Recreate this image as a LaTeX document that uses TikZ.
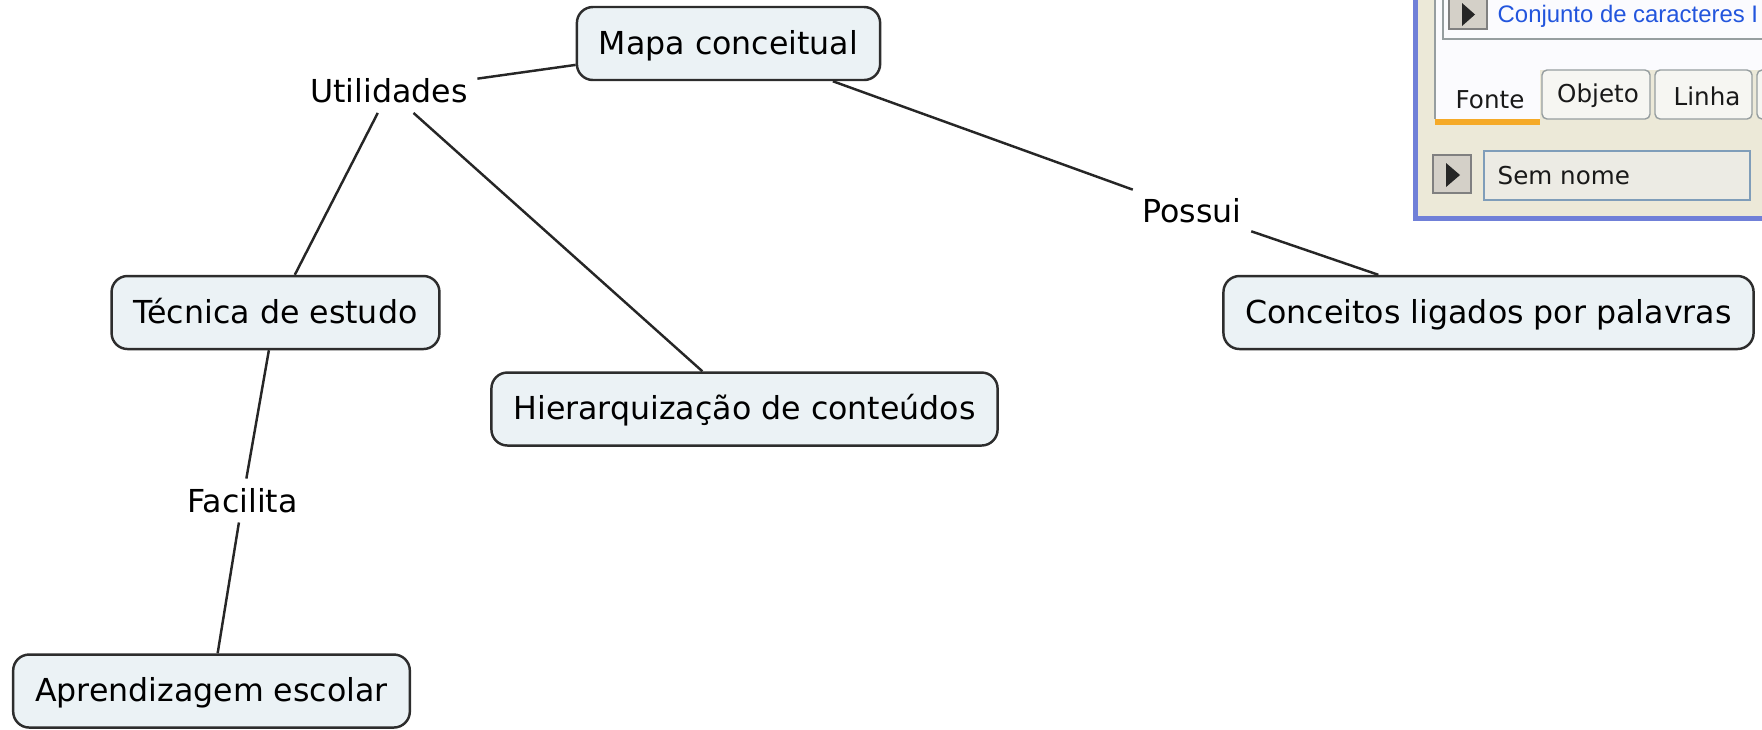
\documentclass[tikz,border=0pt]{standalone}
\usepackage{fontspec}
\setmainfont{DejaVu Sans}
\newfontfamily\uifont{Liberation Sans}

\definecolor{fundo}{RGB}{235,242,245}
\definecolor{borda}{RGB}{45,45,45}
\definecolor{xpbege}{RGB}{236,233,216}
\definecolor{xpazul}{RGB}{112,128,216}
\definecolor{abacinza}{RGB}{150,158,160}
\definecolor{painel}{RGB}{251,251,254}
\definecolor{aba}{RGB}{246,246,242}
\definecolor{botao}{RGB}{212,208,200}
\definecolor{campo}{RGB}{236,235,228}
\definecolor{campoborda}{RGB}{127,157,185}
\definecolor{azultexto}{RGB}{34,85,221}
\definecolor{laranja}{RGB}{245,170,40}

\begin{document}
\begin{tikzpicture}[font=\fontsize{9}{10.5}\selectfont,
   conceito/.style={draw=borda,line width=.7pt,fill=fundo,rounded corners=.16cm,
      inner xsep=.22cm,minimum height=.73cm,text height=.8em,text depth=.2em},
   ligacao/.style={inner sep=.09cm},
   linha/.style={draw=black!85,line width=.7pt},
   ui/.style={font=\fontsize{7}{8}\selectfont,text=black!90,inner sep=0pt}]
   \useasboundingbox (0,0) rectangle (17.62,-7.29);

   \node[conceito] (mapa) at (7.285,-.435) {Mapa conceitual};
   \node[ligacao] (util) at (3.89,-.91) {Utilidades};
   \node[conceito] (tecnica) at (2.755,-3.125) {Técnica de estudo};
   \node[conceito] (hier) at (7.445,-4.09) {Hierarquização de conteúdos};
   \node[ligacao] (possui) at (11.92,-2.11) {Possui};
   \node[conceito] (conceitos) at (14.885,-3.125) {Conceitos ligados por palavras};
   \node[ligacao] (facilita) at (2.425,-5.005) {Facilita};
   \node[conceito] (aprend) at (2.115,-6.91) {Aprendizagem escolar};

   \draw[linha] (util) -- (mapa);
   \draw[linha] (util) -- (tecnica);
   \draw[linha] (util) -- (hier);
   \draw[linha] (mapa) -- (possui);
   \draw[linha] (possui) -- (conceitos);
   \draw[linha] (tecnica) -- (facilita);
   \draw[linha] (facilita) -- (aprend);

   \begin{scope}
   \clip (0,0) rectangle (17.62,-7.29);
   \fill[xpbege] (14.15,.2) rectangle (17.8,-2.185);
   \draw[xpazul,line width=.05cm] (14.15,.2) -- (14.15,-2.185) -- (17.8,-2.185);
   \fill[painel] (14.35,.2) rectangle (17.8,-.70);
   \fill[painel] (14.35,-.70) rectangle (15.40,-1.19);
   \draw[abacinza] (14.35,.2) -- (14.35,-1.19);
   \draw[laranja,line width=.06cm] (14.35,-1.215) -- (15.40,-1.215);
   \filldraw[fill=aba,draw=abacinza,rounded corners=.05cm] (15.42,-.70) rectangle (16.50,-1.19);
   \filldraw[fill=aba,draw=abacinza,rounded corners=.05cm] (16.55,-.70) rectangle (17.52,-1.19);
   \filldraw[fill=aba,draw=abacinza,rounded corners=.05cm] (17.57,-.70) rectangle (18.2,-1.19);
   \draw[abacinza] (14.43,.2) |- (17.8,-.39);
   \filldraw[fill=botao,draw=gray] (14.49,.05) rectangle (14.87,-.29);
   \fill[black!85] (14.62,-.03) -- (14.75,-.145) -- (14.62,-.26) -- cycle;
   \node[anchor=base west,inner sep=0pt,text=azultexto,font=\uifont\fontsize{6.8}{8}\selectfont] (conjunto) at (14.97,-.22) {Conjunto de caracteres I};
   \node[ui] (fonte) at (14.90,-1.00) {Fonte};
   \node[ui] (objeto) at (15.98,-.96) {Objeto};
   \node[ui] (linha) at (17.07,-.96) {Linha};
   \filldraw[fill=botao,draw=gray] (14.33,-1.55) rectangle (14.71,-1.93);
   \fill[black!85] (14.46,-1.63) -- (14.60,-1.75) -- (14.46,-1.87) -- cycle;
   \filldraw[fill=campo,draw=campoborda] (14.84,-1.51) rectangle (17.50,-2.00);
   \node[ui,anchor=west] (semnome) at (14.97,-1.76) {Sem nome};
   \end{scope}
\end{tikzpicture}
\end{document}
